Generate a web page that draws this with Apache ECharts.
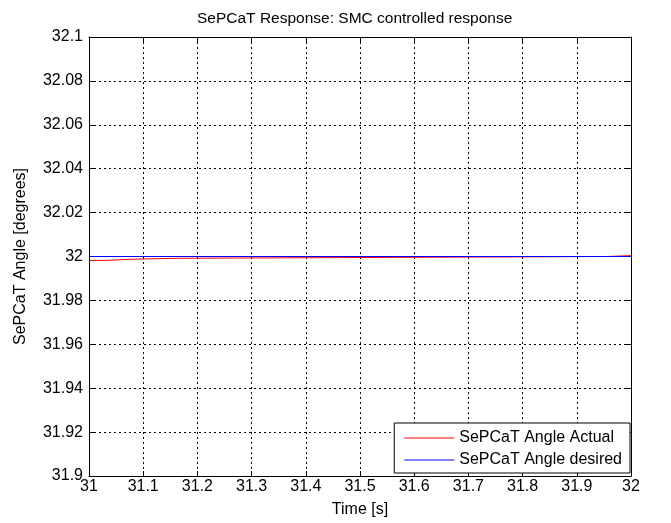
<!DOCTYPE html>
<html>
<head>
<meta charset="utf-8">
<script src="https://cdn.jsdelivr.net/npm/echarts@6/dist/echarts.min.js"></script>
<style>
  html, body { margin: 0; padding: 0; background: #fff; }
  #chart { width: 671px; height: 523px; }
</style>
</head>
<body>
<div id="chart"></div>
<script>
// time [s] and angle [deg]
const actualTime = [31, 31.03, 31.03, 31.082, 31.082, 31.17, 31.17, 31.955, 31.955, 32]
const actualAngle = [31.9982, 31.9982, 31.9988, 31.9988, 31.9992, 31.9992, 32, 32, 32.0004, 32.0004]
const desiredTime = [31, 32]
const desiredAngle = [32, 32]

const seriesNames = ['SePCaT Angle Actual', 'SePCaT Angle desired']

const fontFamily = 'Liberation Sans, Arial, sans-serif'
const trimNum = v => String(parseFloat(v.toFixed(3)))

const chart = echarts.init(document.getElementById('chart'))

const gridLine = { show: true, lineStyle: { color: '#000', type: [2, 3], width: 1 } }
const tickIn = { show: true, inside: true, length: 5, lineStyle: { color: '#000' } }

chart.setOption({
  animation: false,
  title: {
    text: 'SePCaT Response: SMC controlled response',
    left: 192,
    top: 6,
    textStyle: { fontFamily, fontSize: 15.5, fontWeight: 'normal', color: '#000' }
  },
  grid: { left: 89, right: 40, top: 37, bottom: 42 },
  legend: {
    orient: 'vertical',
    right: 41,
    bottom: 50,
    backgroundColor: '#fff',
    borderColor: '#000',
    borderWidth: 1,
    padding: [7, 8, 5, 10],
    itemGap: 6,
    itemWidth: 50,
    itemHeight: 1,
    icon: 'rect',
    textStyle: { fontFamily, fontSize: 16, color: '#000' },
    data: seriesNames
  },
  xAxis: [
    {
      type: 'value',
      min: 31, max: 32, interval: 0.1,
      name: 'Time [s]',
      nameLocation: 'middle',
      nameGap: 26,
      nameTextStyle: { fontFamily, fontSize: 16, color: '#000' },
      axisLine: { show: true, onZero: false, lineStyle: { color: '#000', width: 1 } },
      axisTick: tickIn,
      axisLabel: { fontFamily, fontSize: 16, color: '#000', margin: 3, formatter: trimNum },
      splitLine: gridLine
    },
    {
      type: 'value', position: 'top',
      min: 31, max: 32, interval: 0.1,
      axisLine: { show: true, onZero: false, lineStyle: { color: '#000', width: 1 } },
      axisTick: tickIn,
      axisLabel: { show: false },
      splitLine: { show: false }
    }
  ],
  yAxis: [
    {
      type: 'value',
      min: 31.9, max: 32.1, interval: 0.02,
      name: 'SePCaT Angle [degrees]',
      nameLocation: 'middle',
      nameGap: 60,
      nameTextStyle: { fontFamily, fontSize: 16, color: '#000' },
      axisLine: { show: true, onZero: false, lineStyle: { color: '#000', width: 1 } },
      axisTick: tickIn,
      axisLabel: { fontFamily, fontSize: 16, color: '#000', margin: 6, formatter: trimNum },
      splitLine: gridLine
    },
    {
      type: 'value', position: 'right',
      min: 31.9, max: 32.1, interval: 0.02,
      axisLine: { show: true, onZero: false, lineStyle: { color: '#000', width: 1 } },
      axisTick: tickIn,
      axisLabel: { show: false },
      splitLine: { show: false }
    }
  ],
  series: [
    {
      name: seriesNames[0],
      type: 'line',
      showSymbol: false,
      color: '#ff0000',
      lineStyle: { color: '#ff0000', width: 1 },
      data: actualTime.map((t, i) => [t, actualAngle[i]])
    },
    {
      name: seriesNames[1],
      type: 'line',
      showSymbol: false,
      color: '#0000ff',
      lineStyle: { color: '#0000ff', width: 1 },
      data: desiredTime.map((t, i) => [t, desiredAngle[i]])
    }
  ]
})
</script>
</body>
</html>
